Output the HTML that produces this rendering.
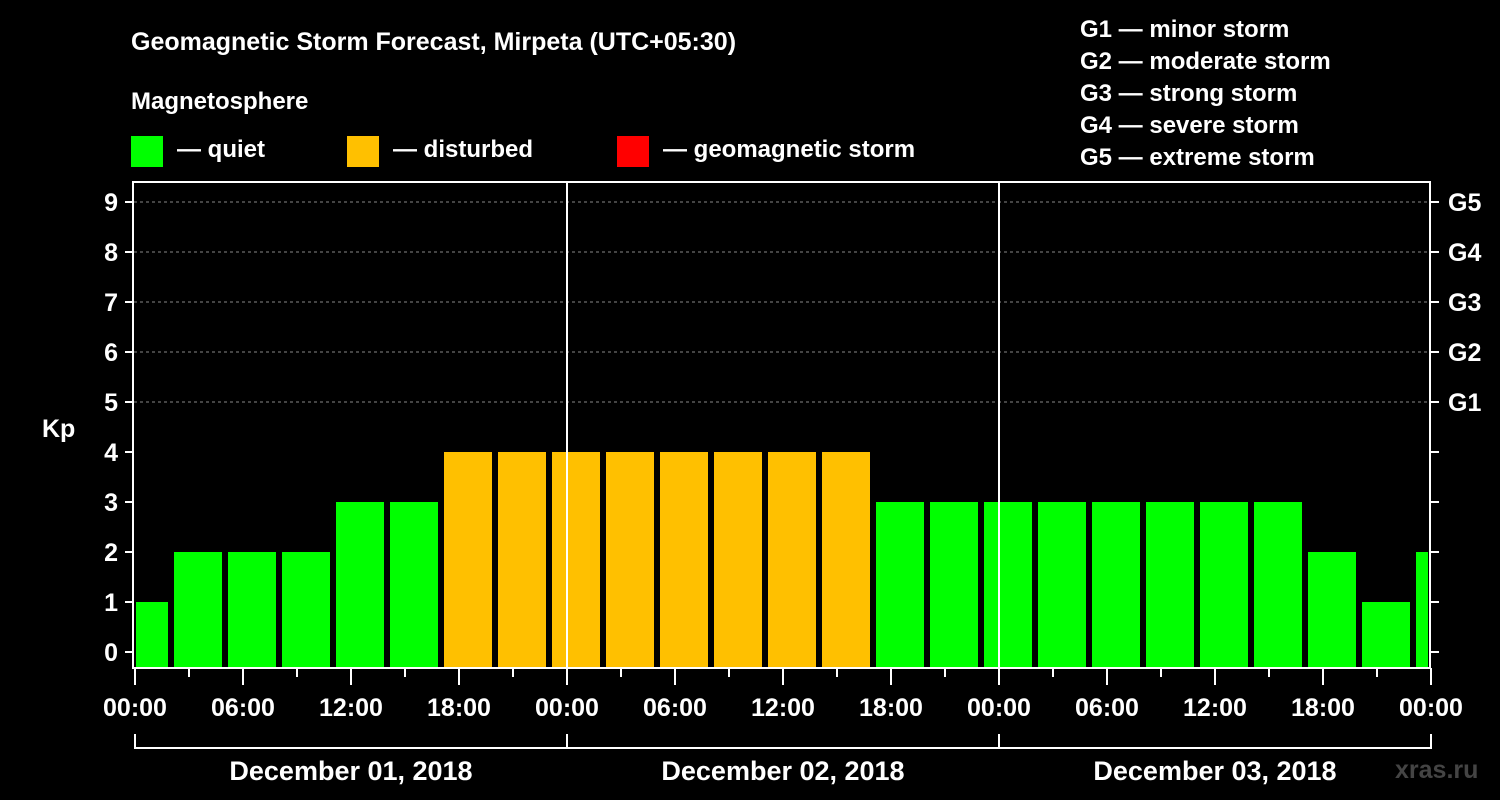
<!DOCTYPE html>
<html><head><meta charset="utf-8"><style>
body{margin:0;background:#000;}
svg{display:block;font-family:"Liberation Sans",Arial,sans-serif;font-weight:bold;}
</style></head><body>
<svg id="chart" width="1500" height="800" viewBox="0 0 1500 800">
<rect width="1500" height="800" fill="#000"/>
<text x="131" y="50" font-size="25" fill="#fff">Geomagnetic Storm Forecast, Mirpeta (UTC+05:30)</text>
<text x="131" y="109" font-size="24" fill="#fff">Magnetosphere</text>
<g><rect x="131" y="136" width="32" height="31" fill="#00ff00"/><text x="177" y="157" font-size="24" fill="#fff">— quiet</text></g>
<g><rect x="347" y="136" width="32" height="31" fill="#ffc000"/><text x="393" y="157" font-size="24" fill="#fff">— disturbed</text></g>
<g><rect x="617" y="136" width="32" height="31" fill="#ff0000"/><text x="663" y="157" font-size="24" fill="#fff">— geomagnetic storm</text></g>
<g font-size="24" fill="#fff">
<text x="1080" y="37">G1 — minor storm</text>
<text x="1080" y="69">G2 — moderate storm</text>
<text x="1080" y="101">G3 — strong storm</text>
<text x="1080" y="133">G4 — severe storm</text>
<text x="1080" y="165">G5 — extreme storm</text>
</g>
<text x="42" y="437" font-size="25" fill="#fff">Kp</text>
<text x="1395" y="778" font-size="25" fill="#444" font-weight="bold">xras.ru</text>
<g id="grid"></g><g id="bars"></g><g id="axes"></g>
</svg>
<script>
const kpValues=[1,2,2,2,3,3,4,4,4,4,4,4,4,4,3,3,3,3,3,3,3,3,2,1,2];
const yTicks=[0,1,2,3,4,5,6,7,8,9];
const gLabels=["G1","G2","G3","G4","G5"];
const xTickLabels=["00:00","06:00","12:00","18:00","00:00","06:00","12:00","18:00","00:00","06:00","12:00","18:00","00:00"];
const dayLabels=["December 01, 2018","December 02, 2018","December 03, 2018"];
const NS="http://www.w3.org/2000/svg";
const L=134,R=1430,T=182,B=668,x0=135,pxHour=18;
const X=h=>x0+h*pxHour;
const Y=v=>652-50*v;
function mk(tag,attrs,parent,txt){const e=document.createElementNS(NS,tag);for(const k in attrs)e.setAttribute(k,attrs[k]);if(txt!==undefined)e.textContent=txt;document.getElementById(parent).appendChild(e);return e;}
// grid
for(const v of yTicks){if(v>=5){const g=mk('line',{x1:L,x2:R,y1:Y(v),y2:Y(v),stroke:'#888','stroke-dasharray':'3,3','stroke-width':1},'grid');

}}
// bars
const slotStart=-1;
kpValues.forEach((v,i)=>{
 let a=X(slotStart+3*i)+3,b=X(slotStart+3*(i+1))-3;
 a=Math.max(a,L+2);b=Math.min(b,R-2);
 const col=v>=5?'#ff0000':(v>=4?'#ffc000':'#00ff00');
 const r=mk('rect',{x:a,y:Y(v),width:b-a,height:B-Y(v),fill:col},'bars');
 
 
});
// day separators
[1,2].forEach(d=>{const l=mk('line',{x1:X(24*d),x2:X(24*d),y1:T,y2:B,stroke:'#fff','stroke-width':2},'axes');

});
// frame
const f=mk('rect',{x:L-1,y:T,width:R-L+1,height:B-T,fill:'none',stroke:'#fff','stroke-width':2},'axes');


// y ticks
yTicks.forEach(v=>{
 mk('line',{x1:L-9,x2:L,y1:Y(v),y2:Y(v),stroke:'#fff','stroke-width':2},'axes');
 mk('line',{x1:R,x2:R+9,y1:Y(v),y2:Y(v),stroke:'#fff','stroke-width':2},'axes');
 const t=mk('text',{x:L-16,y:Y(v)+9,'font-size':25,fill:'#fff','text-anchor':'end'},'axes',String(v));
 
 
});
gLabels.forEach((g,i)=>{const t=mk('text',{x:R+18,y:Y(5+i)+9,'font-size':25,fill:'#fff'},'axes',g);

});
// x ticks
for(let h=0;h<=72;h+=3){const major=h%6===0;mk('line',{x1:X(h),x2:X(h),y1:B,y2:B+(major?17:9),stroke:'#fff','stroke-width':2},'axes');}
xTickLabels.forEach((s,i)=>{const t=mk('text',{x:X(6*i),y:716,'font-size':25,fill:'#fff','text-anchor':'middle'},'axes',s);

});
// day brackets
mk('line',{x1:X(0),x2:X(72),y1:748,y2:748,stroke:'#fff','stroke-width':2},'axes');
[0,1,2,3].forEach(d=>mk('line',{x1:X(24*d),x2:X(24*d),y1:734,y2:749,stroke:'#fff','stroke-width':2},'axes'));
dayLabels.forEach((s,i)=>{const t=mk('text',{x:X(24*i+12),y:780,'font-size':27,fill:'#fff','text-anchor':'middle'},'axes',s);

});
</script>
</body></html>
